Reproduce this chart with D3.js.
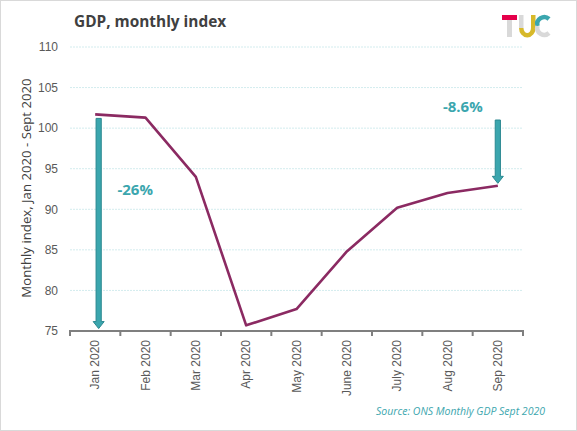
<!DOCTYPE html>
<html>
<head>
<meta charset="utf-8">
<script src="https://cdn.jsdelivr.net/npm/d3@7"></script>
<style>
  body { margin: 0; background: #fff; }
  svg { display: block; font-family: "Open Sans", sans-serif; }
</style>
</head>
<body>
<div id="chart"></div>
<script>
// data
const months = ['Jan 2020', 'Feb 2020', 'Mar 2020', 'Apr 2020', 'May 2020', 'June 2020', 'July 2020', 'Aug 2020', 'Sep 2020']
const gdpIndex = [101.7, 101.3, 94.0, 75.7, 77.7, 84.8, 90.2, 92.0, 92.9]
const yTicks = [75, 80, 85, 90, 95, 100, 105, 110]

// the two drop arrows and their labels
const arrowMonths = ['Jan 2020', 'Sep 2020']
const arrowFrom = [101.2, 101.0]
const arrowTo = [75.3, 93.2]
const arrowLabels = ['-26%', '-8.6%']
const labelAt = [92.4, 102.6]

const width = 577, height = 431
const margin = {top: 47, right: 54, bottom: 101, left: 70}

const svg = d3.select('#chart').append('svg')
    .attr('width', width)
    .attr('height', height)

// frame
svg.append('rect')
    .attr('x', 0.5).attr('y', 0.5)
    .attr('width', width - 1).attr('height', height - 1)
    .attr('fill', '#fff')
    .attr('stroke', '#d9d9d9')

const x = d3.scaleBand()
    .domain(months)
    .range([margin.left, width - margin.right])

const y = d3.scaleLinear()
    .domain([75, 110])
    .range([height - margin.bottom + 1, margin.top])

const cx = m => x(m) + x.bandwidth() / 2

// gridlines
svg.append('g')
    .selectAll('line')
    .data(yTicks.filter(t => t > 75))
    .join('line')
    .attr('x1', margin.left).attr('x2', width - margin.right)
    .attr('y1', d => y(d)).attr('y2', d => y(d))
    .attr('stroke', '#d3ecee')
    .attr('stroke-dasharray', '2,1')

// y axis (labels only)
const yAxis = svg.append('g')
    .attr('transform', `translate(${margin.left},0)`)
    .call(d3.axisLeft(y).tickValues(yTicks).tickSize(0).tickPadding(12))
yAxis.select('.domain').remove()
yAxis.selectAll('text')
    .attr('fill', '#595959')
    .style('font-size', '12px')

// x axis
const xAxis = svg.append('g')
    .attr('transform', `translate(0,${y(75)})`)
    .call(d3.axisBottom(x).tickSize(0))
xAxis.select('.domain').attr('stroke', '#7f7f7f').attr('stroke-width', 2)
    .attr('d', `M${margin.left},5V0H${width - margin.right}V5`)
// tick marks at band edges
xAxis.append('g')
    .selectAll('line')
    .data(months.slice(1))
    .join('line')
    .attr('x1', d => x(d)).attr('x2', d => x(d))
    .attr('y1', 0).attr('y2', 5)
    .attr('stroke', '#7f7f7f')
    .attr('stroke-width', 2)
xAxis.selectAll('.tick text')
    .attr('fill', '#595959')
    .style('font-size', '12px')
    .attr('transform', 'rotate(-90)')
    .attr('text-anchor', 'end')
    .attr('x', -9)
    .attr('y', 0)
    .attr('dy', '0.35em')

// axis title
svg.append('text')
    .attr('transform', `translate(31,188) rotate(-90)`)
    .attr('text-anchor', 'middle')
    .attr('fill', '#404040')
    .style('font-size', '13.2px')
    .text('Monthly index, Jan 2020 - Sept 2020')

// the line
const line = d3.line()
    .x((d, i) => cx(months[i]))
    .y(d => y(d))

svg.append('path')
    .datum(gdpIndex)
    .attr('d', line)
    .attr('fill', 'none')
    .attr('stroke', '#8b2a62')
    .attr('stroke-width', 2.6)
    .attr('stroke-linejoin', 'round')

// arrows
function arrowPath(xc, y0, y1) {
    const sw = 2.6, hw = 5.5, hl = 7
    return `M${xc - sw},${y0}H${xc + sw}V${y1 - hl}H${xc + hw}L${xc},${y1}L${xc - hw},${y1 - hl}H${xc - sw}Z`
}
svg.append('g')
    .selectAll('path')
    .data(arrowMonths)
    .join('path')
    .attr('d', (m, i) => arrowPath(cx(m) + (i == 0 ? 3.5 : 0), y(arrowFrom[i]), y(arrowTo[i])))
    .attr('fill', '#3ba6ae')
    .attr('stroke', '#2a8890')
    .attr('stroke-width', 1)

svg.append('g')
    .selectAll('text')
    .data(arrowLabels)
    .join('text')
    .attr('x', (d, i) => cx(arrowMonths[i]) + (i == 0 ? 40 : -35))
    .attr('y', (d, i) => y(labelAt[i]))
    .attr('text-anchor', 'middle')
    .attr('dy', '0.35em')
    .attr('fill', '#3ba6ae')
    .style('font-size', '15px')
    .style('font-weight', 'bold')
    .text(d => d)

// title
svg.append('text')
    .attr('x', 74).attr('y', 27)
    .attr('fill', '#404040')
    .style('font-size', '15.4px')
    .style('font-weight', 'bold')
    .text('GDP, monthly index')

// source
svg.append('text')
    .attr('x', 545).attr('y', 415)
    .attr('text-anchor', 'end')
    .attr('fill', '#3ba6ae')
    .style('font-size', '10.5px')
    .style('font-style', 'italic')
    .text('Source: ONS Monthly GDP Sept 2020')

// TUC logo
const logo = svg.append('g').attr('transform', 'translate(502,15)')
logo.append('rect').attr('x', 0).attr('y', 0).attr('width', 15).attr('height', 5).attr('fill', '#e5004b')
logo.append('rect').attr('x', 5).attr('y', 5).attr('width', 5).attr('height', 17).attr('fill', '#d9d9d9')
logo.append('rect').attr('x', 17).attr('y', 0).attr('width', 4.5).attr('height', 13).attr('fill', '#d9d9d9')
logo.append('path')
    .attr('d', 'M19.25,13 A5.75,7 0 0 0 31.25,13 V0')
    .attr('fill', 'none').attr('stroke', '#d7b92a').attr('stroke-width', 4.5)
logo.append('path')
    .attr('d', 'M47,4 A7,7 0 0 0 35.5,11')
    .attr('fill', 'none').attr('stroke', '#3ba6ae').attr('stroke-width', 4.5)
logo.append('path')
    .attr('d', 'M35.5,11 A7,7 0 0 0 47,18')
    .attr('fill', 'none').attr('stroke', '#d9d9d9').attr('stroke-width', 4.5)
</script>
</body>
</html>
